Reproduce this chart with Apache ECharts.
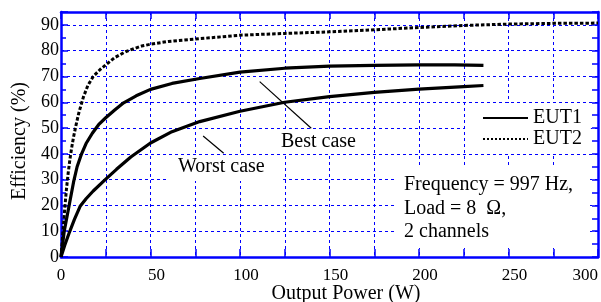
<!DOCTYPE html>
<html>
<head>
<meta charset="utf-8">
<title>Efficiency vs Output Power</title>
<script src="https://cdn.jsdelivr.net/npm/echarts@6/dist/echarts.min.js"></script>
<style>
  html, body { margin: 0; padding: 0; background: #fff; }
  #main { width: 601px; height: 302px; }
</style>
</head>
<body>
<div id="main"></div>
<script type="text/javascript">
// output power (W) and efficiency (%)
var eut2Power = [0, 1, 2, 3, 4, 5, 6, 7, 8.5, 10, 12.5, 15, 18, 22, 25, 30, 36, 45, 50, 60, 80, 100, 125, 150, 175, 200, 225, 250, 275, 300];
var eut2Eff   = [0, 9, 18, 26, 32.5, 38, 42.5, 46.5, 51.5, 56, 62, 66.5, 70, 72.8, 74.5, 77.3, 79.6, 81.8, 82.5, 83.6, 84.8, 86, 86.7, 87.3, 88.1, 89, 89.8, 90.3, 90.6, 90.7];

var bestPower = [0, 1.8, 4.4, 7, 9, 11.5, 14, 17.5, 21, 25, 30, 35, 42, 50, 62, 77.5, 100, 125, 150, 175, 200, 220, 236];
var bestEff   = [0, 10, 19.5, 29, 35, 40, 44, 48, 51.3, 54, 57, 59.8, 62.5, 65, 67.3, 69.2, 71.7, 73.2, 74, 74.3, 74.5, 74.5, 74.3];

var worstPower = [0, 2, 4.5, 7.5, 10.8, 14, 18, 24.7, 31, 39, 50, 62, 77.5, 100, 125, 150, 175, 200, 225, 236];
var worstEff   = [0, 4.4, 9.2, 14.6, 19.8, 22.6, 25.6, 30, 34, 38.8, 44.2, 48.6, 52.5, 56.5, 60, 62.2, 63.8, 65.1, 66.1, 66.5];

var xTicks = [0, 50, 100, 150, 200, 250, 300];
var yTicks = [0, 10, 20, 30, 40, 50, 60, 70, 80, 90];

function pairs(xs, ys) {
    return xs.map(function (x, i) { return [x, ys[i]]; });
}

var blue = '#0000ff';
var serif = 'Liberation Serif';
var gridDash = { color: blue, width: 1, type: [3, 3] };

var myChart = echarts.init(document.getElementById('main'));

option = {
    animation: false,
    grid: { left: 61, right: 2, top: 12, bottom: 45 },
    xAxis: [{
        type: 'value', min: 0, max: 300, interval: 25, position: 'bottom',
        axisLine: { show: true, onZero: false, lineStyle: { color: blue, width: 2.5 } },
        axisTick: { show: true, inside: true, length: 8, lineStyle: { color: blue, width: 1.5 } },
        axisLabel: {
            margin: 10, color: '#000', fontFamily: serif, fontSize: 17, alignMaxLabel: 'right',
            formatter: function (v) {
                if (xTicks.indexOf(v) < 0) return '';
                return (v === 0 || v === 300) ? String(v) : '{s|' + v + '}';
            },
            rich: { s: { padding: [0, 0, 0, 12], fontFamily: serif, fontSize: 17, color: '#000' } }
        },
        splitLine: { show: true, lineStyle: gridDash }
    }, {
        type: 'value', min: 0, max: 300, interval: 25, position: 'top',
        axisLine: { show: true, onZero: false, lineStyle: { color: blue, width: 2.5 } },
        axisTick: { show: true, inside: true, length: 7, lineStyle: { color: blue, width: 1.5 } },
        axisLabel: { show: false },
        splitLine: { show: false }
    }],
    yAxis: [{
        type: 'value', min: 0, max: 95, interval: 10, position: 'left',
        axisLine: { show: true, onZero: false, lineStyle: { color: blue, width: 2.5 } },
        axisTick: { show: true, inside: true, length: 7, lineStyle: { color: blue, width: 1.5 } },
        axisLabel: {
            margin: 2, color: '#000', fontFamily: serif, fontSize: 18,
            formatter: function (v) { return yTicks.indexOf(v) < 0 ? '' : String(v); }
        },
        splitLine: { show: true, lineStyle: gridDash }
    }, {
        type: 'value', min: 0, max: 95, interval: 5, position: 'left',
        axisLine: { show: false },
        axisTick: { show: true, inside: true, length: 5, lineStyle: { color: blue, width: 1.5 } },
        axisLabel: { show: false },
        splitLine: { show: false }
    }, {
        type: 'value', min: 0, max: 95, interval: 5, position: 'right',
        axisLine: { show: true, onZero: false, lineStyle: { color: blue, width: 2.5 } },
        axisTick: { show: true, inside: true, length: 6, lineStyle: { color: blue, width: 1.5 } },
        axisLabel: { show: false },
        splitLine: { show: false }
    }],
    legend: {
        orient: 'vertical', left: 465, top: 103,
        padding: [5, 9, 5, 17], itemGap: 1, itemWidth: 45, itemHeight: 14,
        backgroundColor: '#fff', selectedMode: false,
        itemStyle: { opacity: 0 },
        textStyle: { fontFamily: serif, fontSize: 20, color: '#000', lineHeight: 20 },
        data: [
            { name: 'EUT1' },
            { name: 'EUT2', lineStyle: { width: 2, type: [2, 2] } }
        ]
    },
    graphic: [
        { type: 'rect', z: 3, shape: { x: 167, y: 155, width: 116, height: 26 }, style: { fill: '#fff' } },
        { type: 'rect', z: 3, shape: { x: 275, y: 129, width: 88, height: 24 }, style: { fill: '#fff' } },
        { type: 'rect', z: 3, shape: { x: 394, y: 166, width: 196, height: 82 }, style: { fill: '#fff' } },
        { type: 'text', z: 4, style: { x: 178, y: 167, text: 'Worst case', font: '20px "Liberation Serif"', fill: '#000',
            textAlign: 'left', textVerticalAlign: 'middle', align: 'left', verticalAlign: 'middle' } },
        { type: 'text', z: 4, style: { x: 281, y: 142, text: 'Best case', font: '20px "Liberation Serif"', fill: '#000',
            textAlign: 'left', textVerticalAlign: 'middle', align: 'left', verticalAlign: 'middle' } },
        { type: 'text', z: 4, style: { x: 404, y: 173, text: 'Frequency = 997 Hz,\nLoad = 8  \u03a9,\n2 channels',
            font: '20px "Liberation Serif"', lineHeight: 23.5, fill: '#000',
            textAlign: 'left', textVerticalAlign: 'top', align: 'left', verticalAlign: 'top' } },
        { type: 'text', z: 4, x: 20, y: 141, rotation: Math.PI / 2,
            style: { x: 0, y: 0, text: 'Efficiency (%)', font: '20px "Liberation Serif"', fill: '#000',
            textAlign: 'center', textVerticalAlign: 'middle', align: 'center', verticalAlign: 'middle' } },
        { type: 'text', z: 4, style: { x: 346, y: 294, text: 'Output Power (W)', font: '20px "Liberation Serif"', fill: '#000',
            textAlign: 'center', textVerticalAlign: 'middle', align: 'center', verticalAlign: 'middle' } }
    ],
    series: [{
        name: 'EUT1', type: 'line', symbol: 'none', smooth: false, z: 5,
        data: pairs(bestPower, bestEff),
        itemStyle: { color: '#000' },
        lineStyle: { color: '#000', width: 3.2, join: 'round' }
    }, {
        name: 'EUT1', type: 'line', symbol: 'none', smooth: false, z: 5,
        data: pairs(worstPower, worstEff),
        itemStyle: { color: '#000' },
        lineStyle: { color: '#000', width: 3.2, join: 'round' },
        markLine: {
            silent: true, animation: false, symbol: ['none', 'none'],
            label: { show: false },
            lineStyle: { color: '#000', width: 1.2, type: 'solid' },
            data: [
                [{ coord: [111, 68] }, { coord: [139.8, 49.9] }],
                [{ coord: [79.4, 46.9] }, { coord: [90.9, 40.2] }]
            ]
        }
    }, {
        name: 'EUT2', type: 'line', symbol: 'none', smooth: false, z: 5,
        data: pairs(eut2Power, eut2Eff),
        itemStyle: { color: '#000' },
        lineStyle: { color: '#000', width: 3, type: [3.5, 2], join: 'round' }
    }]
};

myChart.setOption(option);
</script>
</body>
</html>
